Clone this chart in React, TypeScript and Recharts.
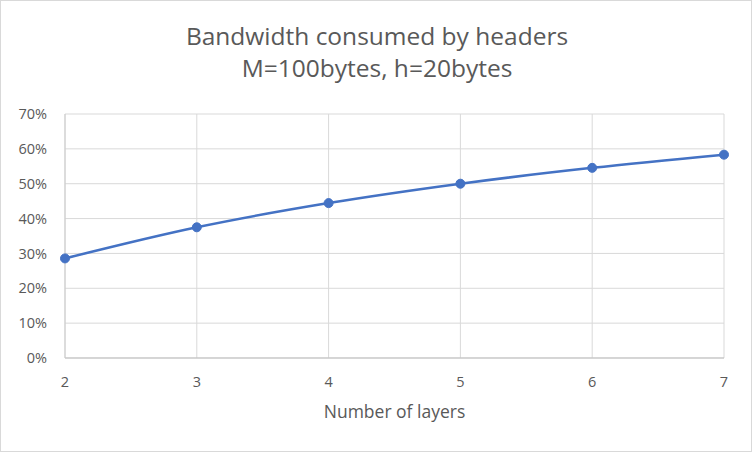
import React from "react";
import { LineChart, Line, XAxis, YAxis, CartesianGrid, Label } from "recharts";

const layers = [2, 3, 4, 5, 6, 7];
const bandwidth = [0.2857, 0.375, 0.4444, 0.5, 0.5455, 0.5833];
const yTicks = [0, 0.1, 0.2, 0.3, 0.4, 0.5, 0.6, 0.7];
const titleLines = ["Bandwidth consumed by headers", "M=100bytes, h=20bytes"];
const xLabel = "Number of layers";

const data = layers.map((l, i) => ({ layers: l, value: bandwidth[i] }));

const FONT = "'Open Sans', 'Liberation Sans', sans-serif";
const TEXT = "#595959";

export default function App() {
  return (
    <div
      style={{
        position: "absolute",
        left: 0,
        top: 0,
        width: 752,
        height: 452,
        boxSizing: "border-box",
        border: "1px solid #d9d9d9",
        background: "#fff",
        fontFamily: FONT,
      }}
    >
      <div
        style={{
          position: "absolute",
          left: 0,
          top: 19,
          width: 752,
          textAlign: "center",
          color: TEXT,
          fontSize: 24.5,
          lineHeight: "32px",
        }}
      >
        {titleLines.map((t) => (
          <div key={t}>{t}</div>
        ))}
      </div>
      <div style={{ position: "absolute", left: -1, top: -1 }}>
        <LineChart
          width={752}
          height={452}
          data={data}
          margin={{ top: 114, right: 28, bottom: 64, left: 0 }}
        >
          <CartesianGrid stroke="#d9d9d9" strokeWidth={1} vertical={true} horizontal={true} />
          <XAxis
            dataKey="layers"
            type="number"
            domain={[2, 7]}
            ticks={layers}
            tickLine={false}
            tickSize={0}
            tickMargin={19}
            height={30}
            axisLine={{ stroke: "#bfbfbf", strokeWidth: 1 }}
            tick={{ fill: TEXT, fontSize: 14.5, fontFamily: FONT }}
          >
            <Label
              value={xLabel}
              position="insideBottom"
              offset={-30}
              style={{ fill: TEXT, fontSize: 17.5, fontFamily: FONT }}
            />
          </XAxis>
          <YAxis
            type="number"
            domain={[0, 0.7]}
            ticks={yTicks}
            width={65}
            tickLine={false}
            tickSize={0}
            tickMargin={18}
            axisLine={{ stroke: "#cccccc", strokeWidth: 1 }}
            tickFormatter={(v: number) => `${Math.round(v * 100)}%`}
            tick={{ fill: TEXT, fontSize: 14.5, fontFamily: FONT }}
          />
          <Line
            type="monotone"
            dataKey="value"
            stroke="#4472c4"
            strokeWidth={2.5}
            dot={{ r: 4.5, fill: "#4472c4", stroke: "#4472c4", strokeWidth: 1 }}
            isAnimationActive={false}
          />
        </LineChart>
      </div>
    </div>
  );
}
